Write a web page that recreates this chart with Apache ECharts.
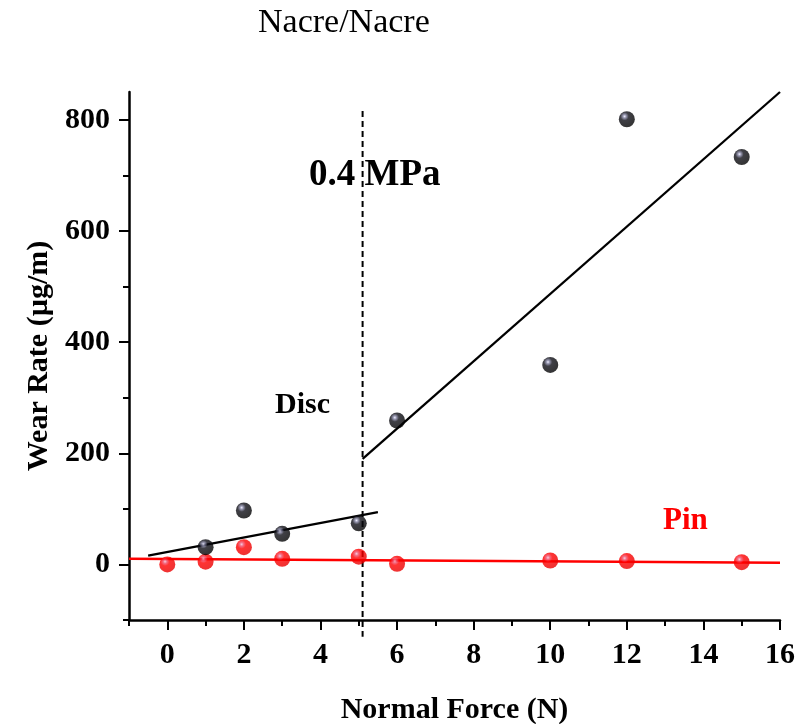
<!DOCTYPE html>
<html><head><meta charset="utf-8">
<script src="https://cdn.jsdelivr.net/npm/echarts@6/dist/echarts.min.js"></script>
<style>html,body{margin:0;padding:0;background:#fff}#c{width:807px;height:724px}</style>
</head><body><div id="c"></div>
<script>
const discX = [1, 2, 3, 5, 6, 10, 12, 15];
const discY = [31, 97, 55, 74, 259, 359, 801, 733];
const pinX = [0, 1, 2, 3, 5, 6, 10, 12, 15];
const pinY = [0, 5, 31, 10, 14, 1, 7, 6, 4];
const discFitLowX = [-0.5, 5.5];
const discFitLowY = [16, 94];
const discFitHighX = [5.1, 16];
const discFitHighY = [190, 850];
const pinFitX = [-1, 16];
const pinFitY = [10, 3];
const thresholdX = [5.1, 5.1];
const thresholdY = [816, -130];
const xMajor = [0, 2, 4, 6, 8, 10, 12, 14, 16];
const xMinor = [-1, 1, 3, 5, 7, 9, 11, 13, 15];
const yMajor = [0, 200, 400, 600, 800];
const yMinor = [-100, 100, 300, 500, 700];

const zip = (a, b) => a.map((v, i) => [v, b[i]]);
const font = 'Liberation Serif';
const blackBall = {type:'radial', x:0.36, y:0.32, r:0.72, colorStops:[{offset:0,color:'#eeeeff'},{offset:0.14,color:'#8080a0'},{offset:0.36,color:'#101018'},{offset:1,color:'#000'}]};
const redBall = {type:'radial', x:0.36, y:0.32, r:0.72, colorStops:[{offset:0,color:'#f4c0d4'},{offset:0.16,color:'#f04a68'},{offset:0.38,color:'#ff0000'},{offset:1,color:'#e80000'}]};

const chart = echarts.init(document.getElementById('c'), null, {renderer:'canvas'});
const grid = {left:129, right:27, top:92, bottom:104, containLabel:false, outerBoundsMode:'none'};
chart.setOption({
  animation:false,
  backgroundColor:'#fff',
  grid:grid,
  xAxis:[{
    type:'value', min:-1, max:16, interval:1,
    axisLine:{show:true, onZero:false, lineStyle:{color:'#000', width:2.5}},
    axisTick:{show:true, customValues:xMajor, length:10, lineStyle:{color:'#000', width:2}},
    axisLabel:{customValues:xMajor, color:'#000', fontFamily:font, fontWeight:'bold', fontSize:30, margin:20},
    splitLine:{show:false},
    name:'Normal Force (N)', nameLocation:'middle', nameGap:75,
    nameTextStyle:{color:'#000', fontFamily:font, fontWeight:'bold', fontSize:30}
  },{
    type:'value', min:-1, max:16, interval:1, position:'bottom',
    axisLine:{show:false, onZero:false},
    axisTick:{show:true, customValues:xMinor, length:6, lineStyle:{color:'#000', width:2}},
    axisLabel:{show:false}, splitLine:{show:false}
  }],
  yAxis:[{
    type:'value', min:-100, max:850, interval:100,
    axisLine:{show:true, onZero:false, lineStyle:{color:'#000', width:2.5}},
    axisTick:{show:true, customValues:yMajor, length:10, lineStyle:{color:'#000', width:2}},
    axisLabel:{customValues:yMajor, color:'#000', fontFamily:font, fontWeight:'bold', fontSize:30, margin:19},
    splitLine:{show:false},
    name:'Wear Rate (\u00b5g/m)', nameLocation:'middle', nameGap:74, nameRotate:90,
    nameTextStyle:{color:'#000', fontFamily:font, fontWeight:'bold', fontSize:30}
  },{
    type:'value', min:-100, max:850, interval:100, position:'left',
    axisLine:{show:false, onZero:false},
    axisTick:{show:true, customValues:yMinor, length:6, lineStyle:{color:'#000', width:2}},
    axisLabel:{show:false}, splitLine:{show:false}
  }],
  series:[
    {type:'line', data:zip(thresholdX, thresholdY), clip:false, symbol:'none', lineStyle:{color:'#000', width:2, type:[6,4]}, z:1},
    {type:'line', data:zip(pinFitX, pinFitY), symbol:'none', lineStyle:{color:'#ff0000', width:2.5}, z:2},
    {type:'line', data:zip(discFitLowX, discFitLowY), symbol:'none', lineStyle:{color:'#000', width:2.3}, z:2},
    {type:'line', data:zip(discFitHighX, discFitHighY), clip:false, symbol:'none', lineStyle:{color:'#000', width:2.3}, z:2},
    {type:'scatter', data:zip(pinX, pinY), symbolSize:16, itemStyle:{color:redBall}, z:3},
    {type:'scatter', data:zip(discX, discY), symbolSize:16, itemStyle:{color:blackBall}, z:4}
  ],
  graphic:[
    {type:'text', left:258, top:6, style:{text:'Nacre/Nacre', font:'34px "Liberation Serif"', fill:'#000'}},
    {type:'text', left:309, top:157, style:{text:'0.4 MPa', font:'bold 37px "Liberation Serif"', fill:'#000'}},
    {type:'text', left:275, top:390, style:{text:'Disc', font:'bold 30px "Liberation Serif"', fill:'#000'}},
    {type:'text', left:663, top:505, style:{text:'Pin', font:'bold 31px "Liberation Serif"', fill:'#ff0000'}}
  ]
});
</script></body></html>
